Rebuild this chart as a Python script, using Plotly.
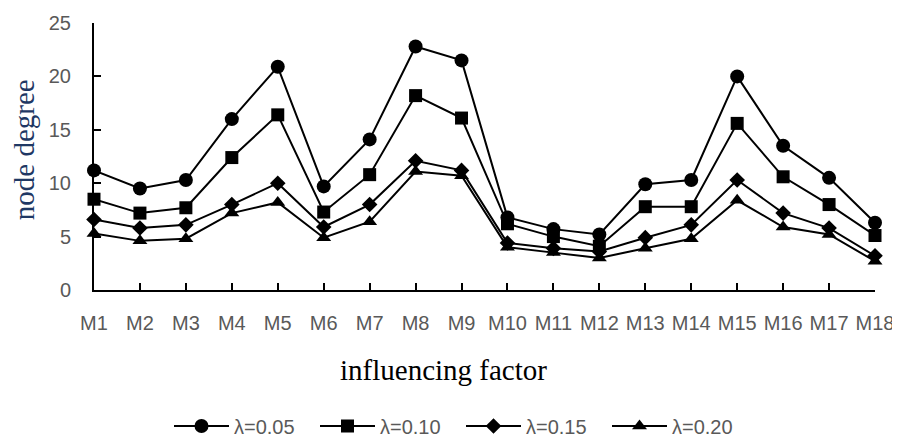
import plotly.graph_objects as go

categories = [f"M{i}" for i in range(1, 19)]
s005 = [11.2, 9.5, 10.3, 16.0, 20.9, 9.7, 14.1, 22.8, 21.5, 6.8, 5.7, 5.2, 9.9, 10.3, 20.0, 13.5, 10.5, 6.3]
s010 = [8.5, 7.2, 7.7, 12.4, 16.4, 7.3, 10.8, 18.2, 16.1, 6.2, 5.0, 4.1, 7.8, 7.8, 15.6, 10.6, 8.0, 5.1]
s015 = [6.6, 5.8, 6.1, 8.0, 10.0, 5.9, 8.0, 12.1, 11.2, 4.4, 3.9, 3.6, 4.9, 6.1, 10.3, 7.2, 5.8, 3.2]
s020 = [5.3, 4.6, 4.8, 7.2, 8.2, 4.9, 6.4, 11.1, 10.7, 4.0, 3.5, 3.0, 3.9, 4.8, 8.4, 5.9, 5.2, 2.7]
names = ["λ=0.05", "λ=0.10", "λ=0.15", "λ=0.20"]
symbols = ["circle", "square", "diamond", "triangle-up"]
sizes = [14, 13, 12, 13]

fig = go.Figure()
for name, vals, sym, sz in zip(names, [s005, s010, s015, s020], symbols, sizes):
    fig.add_trace(go.Scatter(
        x=categories, y=vals, name=name, mode="lines+markers",
        line=dict(color="black", width=2),
        marker=dict(symbol=sym, size=sz, color="black"),
        cliponaxis=False,
    ))

tickfont = dict(family="Liberation Sans, Arial, sans-serif", size=20, color="#595959")

fig.update_layout(
    width=900, height=437,
    margin=dict(l=86, r=33, t=15, b=155),
    paper_bgcolor="white", plot_bgcolor="white",
    showlegend=True,
    legend=dict(orientation="h", xref="container", yref="container",
                x=(461 - 8) / 900, xanchor="center", y=1 - 418 / 437, yanchor="middle",
                font=dict(family="Liberation Sans, Arial, sans-serif", size=20, color="#595959"),
                itemwidth=55, entrywidth=76, entrywidthmode="pixels",
                tracegroupgap=0),
    xaxis=dict(
        type="category", range=[0, 17], automargin=False,
        showline=True, linecolor="black", linewidth=2,
        ticks="inside", ticklen=7, tickcolor="black", tickwidth=2,
        tickfont=tickfont, showgrid=False, zeroline=False,
        ticklabelstandoff=14,
    ),
    yaxis=dict(
        range=[0, 25], dtick=5, automargin=False,
        showline=True, linecolor="black", linewidth=2,
        ticks="inside", ticklen=7, tickcolor="black", tickwidth=2,
        tickfont=tickfont, showgrid=False, zeroline=False,
        ticklabelstandoff=17,
    ),
    annotations=[
        dict(text="influencing factor", xref="paper", yref="paper",
             x=(443 - 94) / 781, y=(290 - 370) / 267.3, showarrow=False,
             xanchor="center", yanchor="middle",
             font=dict(family="Liberation Serif, Times New Roman, serif", size=29, color="black")),
        dict(text="node degree", xref="paper", yref="paper",
             x=(24 - 94) / 781, y=(290 - 150) / 267.3, showarrow=False,
             textangle=-90, xanchor="center", yanchor="middle",
             font=dict(family="Liberation Serif, Times New Roman, serif", size=29, color="#1f3864")),
    ],
)

fig.write_html("out.html")
